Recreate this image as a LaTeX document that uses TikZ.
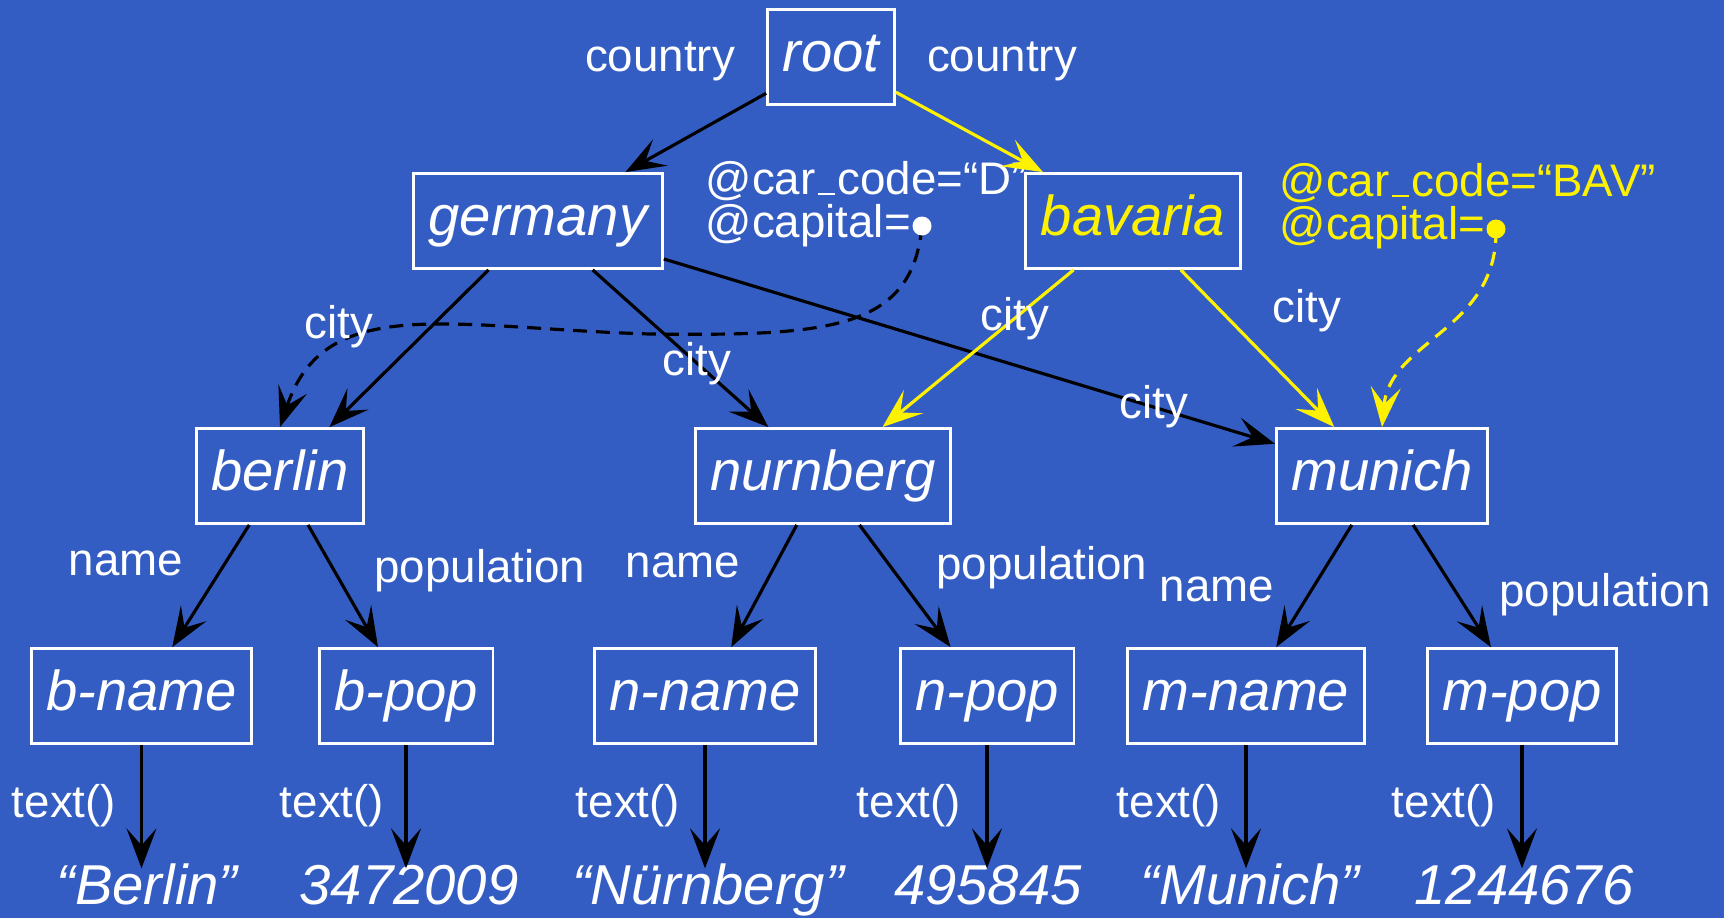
\documentclass[tikz,border=0pt]{standalone}
\usepackage{fontspec}
\setmainfont{Liberation Sans}
\usetikzlibrary{arrows.meta}
\definecolor{slideblue}{RGB}{52,93,196}
\newcommand\lowbar{\kern.05em\rule[-.03em]{.38em}{.06em}\kern.05em}

\begin{document}
\begin{tikzpicture}[
    every node/.style={text=white},
    obj/.style={draw=white, line width=.8pt, font=\fontsize{16}{19}\selectfont\itshape,
        inner xsep=.15cm, inner ysep=.21cm, text height=.41cm, text depth=.12cm},
    lbl/.style={font=\fontsize{13}{15}\selectfont, inner sep=0pt, text height=.33cm, text depth=.1cm},
    val/.style={font=\fontsize{16}{19}\selectfont\itshape, inner sep=0pt, text height=.35cm, anchor=base},
    attr/.style={font=\fontsize{13}{10.8}\selectfont, inner sep=0pt, align=left, anchor=base west},
    edge/.style={line width=.9pt, -{Stealth[length=4mm, width=3mm, inset=1.7mm]}},
    ref/.style={edge, dash pattern=on 1.4mm off .9mm},
]
    \fill [slideblue] (0, 0) rectangle (17.24, -9.18);
    \useasboundingbox (0, 0) rectangle (17.24, -9.18);

    % tree
    \node [obj] (root) at (8.31, -.57) {root};
    \node [obj] (germany) at (5.38, -2.21) {germany};
    \node [obj, text=yellow] (bavaria) at (11.33, -2.21) {bavaria};
    \node [obj] (berlin) at (2.80, -4.76) {berlin};
    \node [obj] (nurnberg) at (8.23, -4.76) {nurnberg};
    \node [obj] (munich) at (13.82, -4.76) {munich};
    \node [obj] (bname) at (1.415, -6.96) {b-name};
    \node [obj] (bpop) at (4.06, -6.96) {b-pop};
    \node [obj] (nname) at (7.05, -6.96) {n-name};
    \node [obj] (npop) at (9.87, -6.96) {n-pop};
    \node [obj] (mname) at (12.46, -6.96) {m-name};
    \node [obj] (mpop) at (15.22, -6.96) {m-pop};

    % text values
    \node [val] (bval) at (1.47, -9.04) {“Berlin”};
    \node [val] (bpopval) at (4.09, -9.04) {3472009};
    \node [val] (nval) at (7.08, -9.04) {“Nürnberg”};
    \node [val] (npopval) at (9.88, -9.04) {495845};
    \node [val] (mval) at (12.50, -9.04) {“Munich”};
    \node [val] (mpopval) at (15.24, -9.04) {1244676};

    % attributes (base = last line)
    \node [attr] (dattr) at (7.05, -2.37) {@car\lowbar code=“D”\\@capital=};
    \coordinate (ddot) at (9.22, -2.26);
    \node [attr, text=yellow] (battr) at (12.79, -2.39) {@car\lowbar code=“BAV”\\@capital=};
    \coordinate (bdot) at (14.96, -2.29);

    \draw [edge] (root) -- (germany);
    \draw [edge, yellow] (root) -- (bavaria);
    \draw [edge] (germany) -- (berlin);
    \draw [edge] (germany) -- (nurnberg);
    \draw [edge] (germany) -- (munich);
    \draw [edge, yellow] (bavaria) -- (nurnberg);
    \draw [edge, yellow] (bavaria) -- (munich);
    \draw [edge] (berlin) -- (bname);
    \draw [edge] (berlin) -- (bpop);
    \draw [edge] (nurnberg) -- (nname);
    \draw [edge] (nurnberg) -- (npop);
    \draw [edge] (munich) -- (mname);
    \draw [edge] (munich) -- (mpop);

    \draw [edge] (bname.south) -- (bname.south |- bval.north);
    \draw [edge] (bpop.south) -- (bpop.south |- bpopval.north);
    \draw [edge] (nname.south) -- (nname.south |- nval.north);
    \draw [edge] (npop.south) -- (npop.south |- npopval.north);
    \draw [edge] (mname.south) -- (mname.south |- mval.north);
    \draw [edge] (mpop.south) -- (mpop.south |- mpopval.north);

    % capital references
    \draw [ref] (ddot) .. controls (9.12, -3.30) and (8.30, -3.36) .. (6.50, -3.34)
        .. controls (4.50, -3.28) and (3.25, -2.92) .. (berlin.north);
    \draw [ref, yellow] (bdot) .. controls (14.98, -3.30) and (13.90, -3.40) .. (munich.north);
    \fill [white] (ddot) circle (.095);
    \fill [yellow] (bdot) circle (.095);

    % edge labels
    \node [lbl] (cleft) at (6.60, -.60) {country};
    \node [lbl] (cright) at (10.02, -.60) {country};
    \node [lbl] (gcity1) at (3.39, -3.27) {city};
    \node [lbl] (gcity2) at (6.97, -3.64) {city};
    \node [lbl] (gcity3) at (11.54, -4.07) {city};
    \node [lbl] (bcity1) at (10.15, -3.19) {city};
    \node [lbl] (bcity2) at (13.07, -3.11) {city};
    \node [lbl] (bnlbl) at (1.26, -5.64) {name};
    \node [lbl] (bplbl) at (4.80, -5.71) {population};
    \node [lbl] (nnlbl) at (6.83, -5.66) {name};
    \node [lbl] (nplbl) at (10.42, -5.68) {population};
    \node [lbl] (mnlbl) at (12.17, -5.90) {name};
    \node [lbl] (mplbl) at (16.05, -5.95) {population};
    \node [lbl] (btlbl) at (.64, -8.06) {text()};
    \node [lbl] (bptlbl) at (3.32, -8.06) {text()};
    \node [lbl] (ntlbl) at (6.28, -8.06) {text()};
    \node [lbl] (nptlbl) at (9.09, -8.06) {text()};
    \node [lbl] (mtlbl) at (11.69, -8.06) {text()};
    \node [lbl] (mptlbl) at (14.44, -8.06) {text()};
\end{tikzpicture}
\end{document}
